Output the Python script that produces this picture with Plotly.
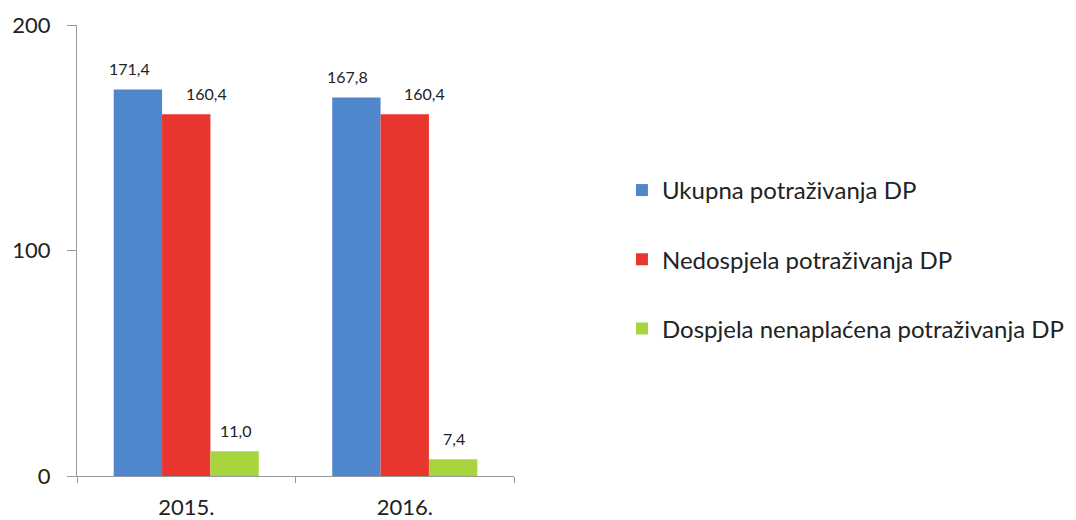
import plotly.graph_objects as go

categories = ["2015.", "2016."]
series_names = ["Ukupna potraživanja DP", "Nedospjela potraživanja DP", "Dospjela nenaplaćena potraživanja DP"]
ukupna = [171.4, 167.8]
nedospjela = [160.4, 160.4]
dospjela = [11.0, 7.4]
y_ticks = [0, 100, 200]

# styles
colors = ["#5087cc", "#e8352e", "#a8d43e"]
label_dx = [-57, 20, 49]   # pixel offset of each series' value label from its category centre
FONT = "Lato, Open Sans, sans-serif"

fig = go.Figure()
for i, (name, vals) in enumerate(zip(series_names, [ukupna, nedospjela, dospjela])):
    fig.add_trace(go.Bar(
        x=categories, y=vals, name=name,
        marker=dict(color=colors[i], line=dict(width=0)),
        legendgroup=f"g{i}",
    ))
    for j, v in enumerate(vals):
        # on a category axis a numeric x is the category's index
        fig.add_annotation(
            x=j, y=v, xref="x", yref="y",
            text=f"{v:.1f}".replace(".", ","),
            showarrow=False, xanchor="center", yanchor="middle",
            xshift=label_dx[i], yshift=21,
            font=dict(family=FONT, size=16, color="#222"),
        )

fig.update_layout(
    width=1068, height=512,
    barmode="group", bargap=0.336, bargroupgap=0,
    plot_bgcolor="white", paper_bgcolor="white",
    margin=dict(l=69, r=562, t=17, b=44, autoexpand=False),
    font=dict(family=FONT, color="#222"),
    legend=dict(x=1.247, y=0.683, xanchor="left", yanchor="top",
                font=dict(size=24, color="#222"), tracegroupgap=35,
                bgcolor="rgba(0,0,0,0)"),
    showlegend=True,
)
fig.update_yaxes(range=[0, 200], tickvals=y_ticks, showgrid=False, zeroline=False,
                 automargin=False,
                 showline=True, linecolor="#999", linewidth=1,
                 ticks="outside", ticklen=9, tickcolor="#999",
                 ticklabelstandoff=12,
                 tickfont=dict(size=22, color="#222"))
fig.update_xaxes(type="category", categoryorder="array", categoryarray=categories,
                 range=[-0.5, len(categories) - 0.5],
                 showline=True, linecolor="#999", linewidth=1, automargin=False,
                 ticks="outside", tickson="boundaries", ticklen=6, tickcolor="#999",
                 ticklabelstandoff=12, tickangle=0,
                 tickfont=dict(size=22, color="#222"))

fig.write_html("out.html")
